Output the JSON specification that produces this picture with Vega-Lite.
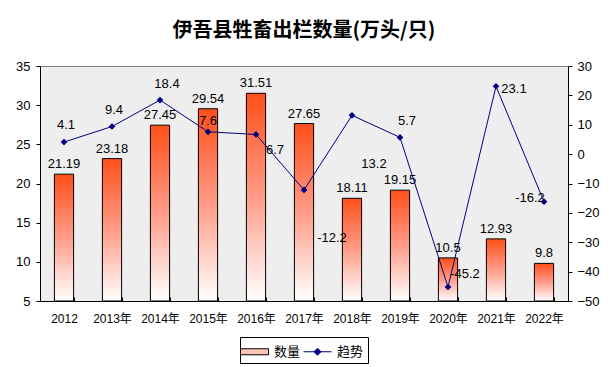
{
  "$schema": "https://vega.github.io/schema/vega-lite/v6.json",
  "autosize": {"type": "none"},
  "width": 528,
  "height": 235,
  "padding": {"left": 40, "top": 66, "right": 47, "bottom": 66},
  "background": "white",
  "title": {
    "text": "伊吾县牲畜出栏数量(万头/只)",
    "font": "Noto Sans CJK SC",
    "fontSize": 20,
    "fontWeight": "bold",
    "color": "black",
    "anchor": "middle",
    "frame": "group",
    "baseline": "middle",
    "offset": 9
  },
  "config": {
    "view": {"stroke": "#808080", "fill": "#eeeeee"},
    "legend": {
      "strokeColor": "black",
      "strokeWidth": 1,
      "fillColor": "white",
      "padding": 4,
      "labelFont": "Noto Sans CJK SC",
      "labelFontSize": 13,
      "labelColor": "black",
      "symbolStrokeWidth": 1,
      "layout": {"bottom": {"anchor": "middle"}}
    }
  },
  "data": {
    "values": [
      {"year": "2012", "count": 21.19, "trend": 4.1},
      {"year": "2013年", "count": 23.18, "trend": 9.4},
      {"year": "2014年", "count": 27.45, "trend": 18.4},
      {"year": "2015年", "count": 29.54, "trend": 7.6},
      {"year": "2016年", "count": 31.51, "trend": 6.7},
      {"year": "2017年", "count": 27.65, "trend": -12.2},
      {"year": "2018年", "count": 18.11, "trend": 13.2},
      {"year": "2019年", "count": 19.15, "trend": 5.7},
      {"year": "2020年", "count": 10.5, "trend": -45.2},
      {"year": "2021年", "count": 12.93, "trend": 23.1},
      {"year": "2022年", "count": 9.8, "trend": -16.2}
    ]
  },
  "encoding": {
    "x": {
      "field": "year",
      "type": "nominal",
      "sort": null,
      "scale": {"paddingInner": 0.6, "paddingOuter": 0.3},
      "axis": {
        "title": null,
        "labelAngle": 0,
        "tickBand": "extent",
        "tickSize": -4,
        "domainColor": "black",
        "tickColor": "black",
        "labelFont": "Liberation Sans, Noto Sans CJK SC",
        "labelFontSize": 12,
        "labelColor": "black",
        "labelPadding": 16
      }
    }
  },
  "layer": [
    {
      "encoding": {
        "y": {
          "field": "count",
          "type": "quantitative",
          "scale": {"domain": [5, 35], "zero": false, "nice": false},
          "axis": {
            "orient": "left",
            "title": null,
            "values": [5, 10, 15, 20, 25, 30, 35],
            "grid": false,
            "domainColor": "black",
            "tickColor": "black",
            "tickSize": 4,
            "labelFont": "Liberation Sans",
            "labelFontSize": 13,
            "labelColor": "black",
            "labelPadding": 6
          }
        }
      },
      "layer": [
        {
          "mark": {
            "type": "bar",
            "stroke": "black",
            "strokeWidth": 1,
            "fill": {
              "gradient": "linear",
              "x1": 0, "y1": 0, "x2": 0, "y2": 1,
              "stops": [
                {"offset": 0, "color": "#ff4f1a"},
                {"offset": 0.5, "color": "#ff9c88"},
                {"offset": 1, "color": "#ffffff"}
              ]
            }
          },
          "encoding": {
            "y2": {"datum": 5},
            "color": {
              "datum": "数量",
              "type": "nominal",
              "scale": {"domain": ["数量", "趋势"], "range": ["#ffc4b8", "#000080"]},
              "legend": {
                "orient": "bottom",
                "offset": 13,
                "direction": "horizontal",
                "title": null,
                "strokeColor": "black",
                "fillColor": "white",
                "padding": 4,
                "symbolSize": 400,
                "symbolType": {"expr": "datum.value === '趋势' ? 'M-1.4,0H1.4M-0.35,0L0,-0.35L0.35,0L0,0.35Z' : 'M-1.4,-0.3H1.4V0.3H-1.4Z'"},
                "symbolStrokeColor": {"expr": "datum.value === '趋势' ? '#000080' : '#000000'"},
                "symbolStrokeWidth": 1,
                "labelOffset": 9,
                "columnPadding": 0,
                "encoding": {
                  "legend": {
                    "stroke": {"value": "black"},
                    "strokeWidth": {"value": 1},
                    "fill": {"value": "white"}
                  },
                  "symbols": {
                    "stroke": {"value": {"expr": "datum.value === '趋势' ? '#000080' : '#000000'"}},
                    "strokeWidth": {"value": 1}
                  }
                }
              }
            }
          }
        },
        {
          "mark": {"type": "text", "baseline": "middle", "dy": -10, "font": "Liberation Sans", "fontSize": 13, "color": "black"},
          "encoding": {"text": {"field": "count", "type": "nominal"}}
        }
      ]
    },
    {
      "encoding": {
        "y": {
          "field": "trend",
          "type": "quantitative",
          "scale": {"domain": [-50, 30], "zero": false, "nice": false},
          "axis": {
            "orient": "right",
            "title": null,
            "values": [-50, -40, -30, -20, -10, 0, 10, 20, 30],
            "grid": false,
            "domainColor": "black",
            "tickColor": "black",
            "tickSize": 4,
            "labelFont": "Liberation Sans",
            "labelFontSize": 13,
            "labelColor": "black",
            "labelPadding": 5
          }
        }
      },
      "layer": [
        {
          "mark": {"type": "line", "strokeWidth": 1, "color": "#000080"},
          "encoding": {}
        },
        {
          "mark": {"type": "point", "shape": "diamond", "filled": true, "size": 45, "opacity": 1, "color": "#000080"},
          "encoding": {}
        },
        {
          "transform": [{"filter": {"field": "year", "oneOf": ["2012", "2013年"]}}],
          "mark": {"type": "text", "baseline": "middle", "dx": 2, "dy": -17, "font": "Liberation Sans", "fontSize": 13, "color": "black"},
          "encoding": {"text": {"field": "trend", "type": "nominal"}}
        },
        {
          "transform": [{"filter": {"field": "year", "oneOf": ["2014年", "2019年"]}}],
          "mark": {"type": "text", "baseline": "middle", "dx": 7, "dy": -16, "font": "Liberation Sans", "fontSize": 13, "color": "black"},
          "encoding": {"text": {"field": "trend", "type": "nominal"}}
        },
        {
          "transform": [{"filter": {"field": "year", "oneOf": ["2015年"]}}],
          "mark": {"type": "text", "baseline": "middle", "dx": 0, "dy": -11, "font": "Liberation Sans", "fontSize": 13, "color": "black"},
          "encoding": {"text": {"field": "trend", "type": "nominal"}}
        },
        {
          "transform": [{"filter": {"field": "year", "oneOf": ["2016年"]}}],
          "mark": {"type": "text", "baseline": "middle", "dx": 19, "dy": 16, "font": "Liberation Sans", "fontSize": 13, "color": "black"},
          "encoding": {"text": {"field": "trend", "type": "nominal"}}
        },
        {
          "transform": [{"filter": {"field": "year", "oneOf": ["2017年"]}}],
          "mark": {"type": "text", "baseline": "middle", "dx": 28, "dy": 48, "font": "Liberation Sans", "fontSize": 13, "color": "black"},
          "encoding": {"text": {"field": "trend", "type": "nominal"}}
        },
        {
          "transform": [{"filter": {"field": "year", "oneOf": ["2018年"]}}],
          "mark": {"type": "text", "baseline": "middle", "dx": 22, "dy": 49, "font": "Liberation Sans", "fontSize": 13, "color": "black"},
          "encoding": {"text": {"field": "trend", "type": "nominal"}}
        },
        {
          "transform": [{"filter": {"field": "year", "oneOf": ["2020年"]}}],
          "mark": {"type": "text", "baseline": "middle", "dx": 17, "dy": -13, "font": "Liberation Sans", "fontSize": 13, "color": "black"},
          "encoding": {"text": {"field": "trend", "type": "nominal"}}
        },
        {
          "transform": [{"filter": {"field": "year", "oneOf": ["2021年"]}}],
          "mark": {"type": "text", "baseline": "middle", "dx": 18, "dy": 3, "font": "Liberation Sans", "fontSize": 13, "color": "black"},
          "encoding": {"text": {"field": "trend", "type": "nominal"}}
        },
        {
          "transform": [{"filter": {"field": "year", "oneOf": ["2022年"]}}],
          "mark": {"type": "text", "baseline": "middle", "dx": -14, "dy": -4, "font": "Liberation Sans", "fontSize": 13, "color": "black"},
          "encoding": {"text": {"field": "trend", "type": "nominal"}}
        }
      ]
    }
  ],
  "resolve": {"scale": {"y": "independent"}}
}
